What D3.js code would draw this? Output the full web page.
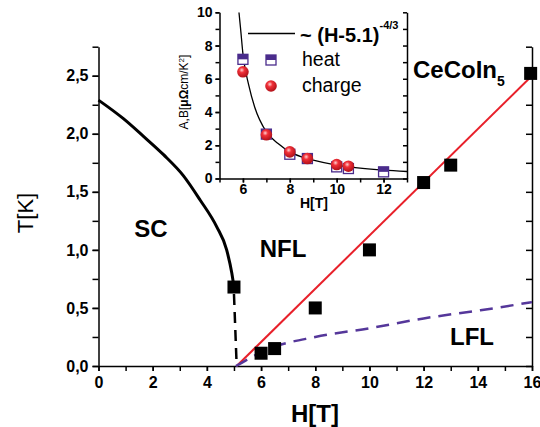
<!DOCTYPE html>
<meta charset="utf-8">
<style>
body { margin: 0; background: #fff; }
svg { display: block; font-family: "Liberation Sans", Arial, sans-serif; }
.axis path, .axis line { stroke: #000; stroke-width: 1.5px; }
.axis text { font-weight: bold; fill: #000; }
.lbl { font-weight: bold; fill: #000; }
</style>
<svg width="540" height="427"></svg>
<script src="https://d3js.org/d3.v7.min.js"></script>
<script>
// main phase diagram
var scH = [0, 0.92, 1.65, 2.4, 3.13, 3.75, 4.36, 4.73, 4.92, 5.0];
var scT = [2.29, 2.13, 1.98, 1.82, 1.64, 1.43, 1.2, 1.0, 0.8, 0.68];
var scDashH = [5.0, 5.1];
var scDashT = [0.62, 0.0];
var nflH = [5.1, 16];
var nflT = [0, 2.5];
var lflH = [5.07, 6.33, 8, 10, 12, 14.1, 16];
var lflT = [0, 0.152, 0.25, 0.325, 0.41, 0.48, 0.55];
var ptH = [5.0, 6.0, 6.5, 8.0, 10.0, 12.0, 13.0, 15.95];
var ptT = [0.68, 0.11, 0.15, 0.5, 1.0, 1.58, 1.73, 2.52];
var xTicks = [0, 2, 4, 6, 8, 10, 12, 14, 16];
var yTicks = [0, 0.5, 1.0, 1.5, 2.0, 2.5];

// inset
var heatH = [6, 7, 8, 8.75, 10, 10.5, 12];
var heatA = [7.17, 2.67, 1.46, 1.2, 0.7, 0.6, 0.4];
var chargeH = [6, 7, 8, 8.75, 10, 10.5];
var chargeA = [6.42, 2.63, 1.6, 1.2, 0.84, 0.74];
var fitH = [5.83, 5.9, 6, 6.25, 6.5, 7, 7.5, 8, 8.5, 9, 10, 11, 12, 13];
var fitA = [10, 9.0, 7.5, 5.6, 4.3, 2.8, 2.1, 1.6, 1.3, 1.1, 0.8, 0.62, 0.5, 0.42];
var insXTicks = [6, 8, 10, 12];
var insYTicks = [0, 2, 4, 6, 8, 10];

var svg = d3.select("svg");
var zip = function(a, b) { return a.map(function(v, i) { return [v, b[i]]; }); };
var comma = function(d) { return d3.format(".1f")(d).replace(".", ","); };

var x = d3.scaleLinear().domain([0, 16]).range([98.5, 532]);
var y = d3.scaleLinear().domain([0, 2.75]).range([366, 46.7]);

var defs = svg.append("defs");
var grad = defs.append("radialGradient").attr("id", "ball")
    .attr("cx", "40%").attr("cy", "35%").attr("r", "65%");
grad.append("stop").attr("offset", "0%").attr("stop-color", "#ffd0d0");
grad.append("stop").attr("offset", "35%").attr("stop-color", "#f03038");
grad.append("stop").attr("offset", "100%").attr("stop-color", "#b01018");

// axes main
svg.append("g").attr("class", "axis").attr("transform", "translate(0," + y(0) + ")")
  .call(d3.axisBottom(x).tickValues(d3.range(0, 17, 1)).tickSize(5).tickSizeOuter(0).tickFormat(""));
svg.append("g").attr("class", "axis").attr("transform", "translate(0," + y(0) + ")")
  .call(d3.axisBottom(x).tickValues(xTicks).tickSize(5).tickPadding(6).tickSizeOuter(0))
  .call(function(g) { g.select(".domain").remove(); })
  .selectAll("text").style("font-size", "16px");

svg.append("g").attr("class", "axis").attr("transform", "translate(" + x(0) + ",0)")
  .call(d3.axisLeft(y).tickValues(d3.range(0, 2.76, 0.25)).tickSize(6).tickSizeOuter(0).tickFormat(""));
svg.append("g").attr("class", "axis").attr("transform", "translate(" + x(0) + ",0)")
  .call(d3.axisLeft(y).tickValues(yTicks).tickSize(6).tickPadding(4).tickFormat(comma))
  .call(function(g) { g.select(".domain").remove(); })
  .selectAll("text").style("font-size", "16px");

svg.append("g").attr("class", "axis").attr("transform", "translate(" + x(16) + ",0)")
  .call(d3.axisLeft(y).tickValues(d3.range(0, 2.76, 0.25)).tickSize(6).tickSizeOuter(0).tickFormat(""));

// curves
var line = d3.line().x(function(d) { return x(d[0]); }).y(function(d) { return y(d[1]); });

svg.append("path").datum(zip(scH, scT))
  .attr("d", line.curve(d3.curveMonotoneX))
  .attr("fill", "none").attr("stroke", "#000").attr("stroke-width", 3);
line.curve(d3.curveLinear);
svg.append("path").datum(zip(scDashH, scDashT)).attr("d", line)
  .attr("fill", "none").attr("stroke", "#000").attr("stroke-width", 2.5).attr("stroke-dasharray", "11,7");
svg.append("path").datum(zip(nflH, nflT)).attr("d", line)
  .attr("fill", "none").attr("stroke", "#e8202a").attr("stroke-width", 2);
svg.append("path").datum(zip(lflH, lflT)).attr("d", line.curve(d3.curveMonotoneX))
  .attr("fill", "none").attr("stroke", "#55379a").attr("stroke-width", 2.5).attr("stroke-dasharray", "13,8");

svg.append("g").selectAll("rect").data(zip(ptH, ptT)).enter().append("rect")
  .attr("x", function(d) { return x(d[0]) - 6.5; })
  .attr("y", function(d) { return y(d[1]) - 6.5; })
  .attr("width", 13).attr("height", 13).attr("fill", "#000");

// labels
svg.append("text").attr("class", "lbl").attr("x", 151).attr("y", 237).attr("text-anchor", "middle")
  .style("font-size", "24px").text("SC");
svg.append("text").attr("class", "lbl").attr("x", 283).attr("y", 257).attr("text-anchor", "middle")
  .style("font-size", "24px").text("NFL");
svg.append("text").attr("class", "lbl").attr("x", 472).attr("y", 345).attr("text-anchor", "middle")
  .style("font-size", "24px").text("LFL");
var ce = svg.append("text").attr("class", "lbl").attr("x", 413).attr("y", 78).style("font-size", "24px");
ce.append("tspan").text("CeCoIn");
ce.append("tspan").attr("dy", 8).style("font-size", "14px").text("5");

svg.append("text").attr("class", "lbl").attr("x", 315).attr("y", 422).attr("text-anchor", "middle")
  .style("font-size", "24px").text("H[T]");
svg.append("text").attr("transform", "translate(33,213) rotate(-90)").attr("text-anchor", "middle")
  .style("font-size", "22px").text("T[K]");

// inset
var ix = d3.scaleLinear().domain([5, 13]).range([219.5, 407]);
var iy = d3.scaleLinear().domain([0, 10]).range([178.5, 12.3]);

svg.append("rect").attr("x", ix(5)).attr("y", iy(10)).attr("width", ix(13) - ix(5)).attr("height", iy(0) - iy(10))
  .attr("fill", "#fff");
defs.append("clipPath").attr("id", "insclip").append("rect")
  .attr("x", ix(5)).attr("y", iy(10)).attr("width", ix(13) - ix(5)).attr("height", iy(0) - iy(10));

svg.append("g").attr("class", "axis").attr("transform", "translate(0," + iy(0) + ")")
  .call(d3.axisBottom(ix).tickValues(d3.range(5, 14, 1)).tickSize(4).tickSizeOuter(0).tickFormat(""));
svg.append("g").attr("class", "axis").attr("transform", "translate(0," + iy(0) + ")")
  .call(d3.axisBottom(ix).tickValues(insXTicks).tickSize(4).tickPadding(2))
  .call(function(g) { g.select(".domain").remove(); })
  .selectAll("text").style("font-size", "14px");
svg.append("g").attr("class", "axis").attr("transform", "translate(" + ix(5) + ",0)")
  .call(d3.axisLeft(iy).tickValues(d3.range(0, 11, 1)).tickSize(4).tickSizeOuter(0).tickFormat(""));
svg.append("g").attr("class", "axis").attr("transform", "translate(" + ix(5) + ",0)")
  .call(d3.axisLeft(iy).tickValues(insYTicks).tickSize(4).tickPadding(3))
  .call(function(g) { g.select(".domain").remove(); })
  .selectAll("text").style("font-size", "14px");
svg.append("g").attr("class", "axis").attr("transform", "translate(" + ix(13) + ",0)")
  .call(d3.axisLeft(iy).tickValues(d3.range(0, 11, 1)).tickSize(4).tickSizeOuter(0).tickFormat(""));

var iline = d3.line().x(function(d) { return ix(d[0]); }).y(function(d) { return iy(d[1]); })
  .curve(d3.curveMonotoneX);
svg.append("path").datum(zip(fitH, fitA)).attr("d", iline).attr("clip-path", "url(#insclip)")
  .attr("fill", "none").attr("stroke", "#000").attr("stroke-width", 1.3);

function heatMark(g) {
  g.append("rect").attr("x", -5).attr("y", -5).attr("width", 10).attr("height", 10)
    .attr("fill", "#fff").attr("stroke", "#4a2c8c").attr("stroke-width", 1.3);
  g.append("rect").attr("x", -5).attr("y", -5).attr("width", 10).attr("height", 5).attr("fill", "#4a2c8c");
}
function chargeMark(g) {
  g.append("circle").attr("r", 5.8).attr("fill", "url(#ball)");
}

svg.append("g").selectAll("g").data(zip(heatH, heatA)).enter().append("g")
  .attr("transform", function(d) { return "translate(" + ix(d[0]) + "," + iy(d[1]) + ")"; })
  .each(function() { heatMark(d3.select(this)); });
svg.append("g").selectAll("g").data(zip(chargeH, chargeA)).enter().append("g")
  .attr("transform", function(d) { return "translate(" + ix(d[0]) + "," + iy(d[1]) + ")"; })
  .each(function() { chargeMark(d3.select(this)); });

// inset legend
svg.append("line").attr("x1", 248).attr("x2", 295).attr("y1", 33.5).attr("y2", 33.5)
  .attr("stroke", "#000").attr("stroke-width", 1.3);
var lt = svg.append("text").attr("class", "lbl").attr("x", 300).attr("y", 41.5).style("font-size", "20px");
lt.append("tspan").text("~ (H-5.1)");
lt.append("tspan").attr("dy", -13).style("font-size", "11px").text("-4/3");
heatMark(svg.append("g").attr("transform", "translate(271,60)"));
chargeMark(svg.append("g").attr("transform", "translate(271,86)"));
svg.append("text").attr("x", 302).attr("y", 66).style("font-size", "19.5px").text("heat");
svg.append("text").attr("x", 302).attr("y", 92).style("font-size", "19.5px").text("charge");

svg.append("text").attr("class", "lbl").attr("x", 314).attr("y", 208).attr("text-anchor", "middle")
  .style("font-size", "14px").text("H[T]");
var al = svg.append("text").attr("transform", "translate(188,92) rotate(-90)").attr("text-anchor", "middle")
  .style("font-size", "12px");
al.append("tspan").text("A,B[");
al.append("tspan").style("font-weight", "bold").text("μΩ");
al.append("tspan").text("cm/K");
al.append("tspan").attr("dy", -4).style("font-size", "8px").text("2");
al.append("tspan").attr("dy", 4).text("]");
</script>
